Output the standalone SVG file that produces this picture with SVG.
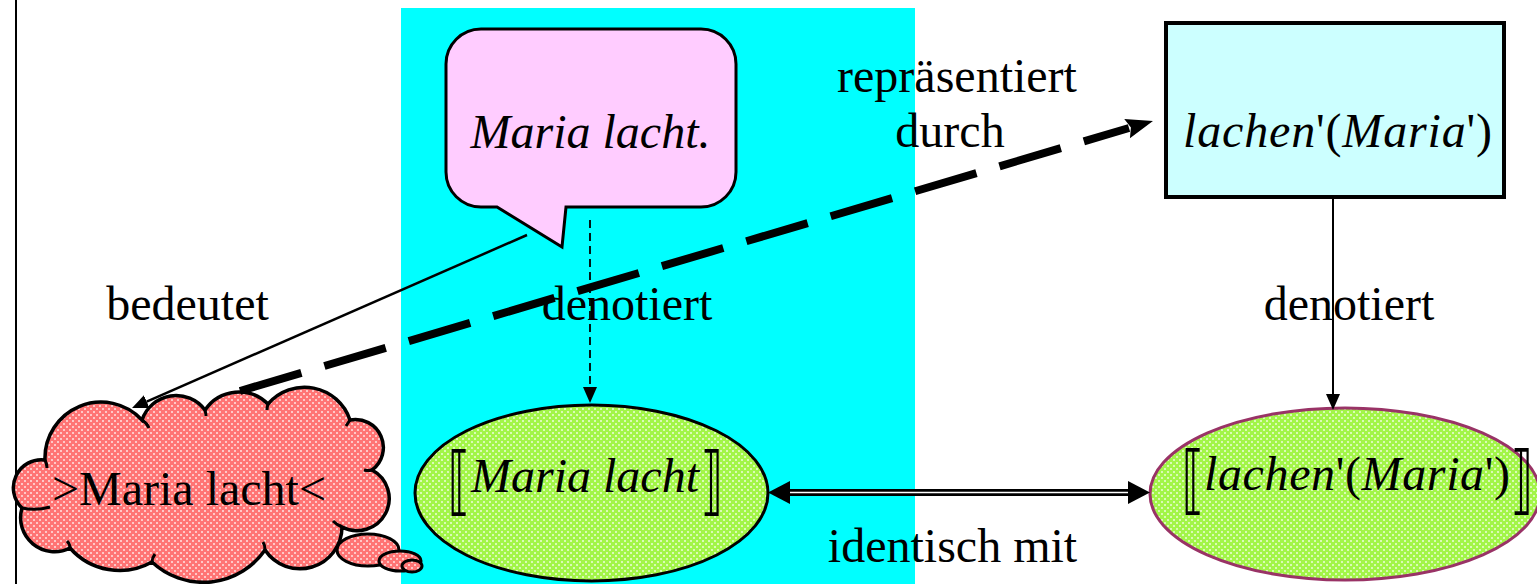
<svg xmlns="http://www.w3.org/2000/svg" xmlns:xlink="http://www.w3.org/1999/xlink" width="1537" height="584" viewBox="0 0 1537 584">
  <style>
    .lbl { font-family: "Liberation Serif", "Times New Roman", serif; font-size: 48px; fill: #000; }
    .it { font-style: italic; }
    .brk { font-family: "DejaVu Serif", "DejaVu Sans", serif; font-size: 75px; fill: #000; }
    .conn { fill: none; stroke: #000; }
    .red { fill: #ff7474; }
    .green { fill: #a2f548; }
    .dots { fill: url(#dotsWhite); stroke: none; }
  </style>
  <defs>
    <!-- white diamond lattice laid over a solid fill -->
    <pattern id="dotsWhite" width="6" height="6" patternUnits="userSpaceOnUse">
      <rect x="0" y="0" width="2" height="2" fill="#ffffff" fill-opacity="0.6"/>
      <rect x="3" y="3" width="2" height="2" fill="#ffffff" fill-opacity="0.6"/>
    </pattern>
    <path id="cloudShape" d="M45,460 A56,56 0 0 1 142,420 A36,36 0 0 1 205,410 A41,41 0 0 1 268,404 A48,48 0 0 1 350,420 A28,28 0 0 1 372,470 A32,32 0 0 1 342,527 A42,42 0 0 1 265,550 A75,75 0 0 1 152,562 A66,66 0 0 1 70,548 A34,34 0 0 1 22,508 A28,28 0 0 1 45,460 Z"/>
    <ellipse id="puffA" cx="368" cy="550" rx="31" ry="16"/>
    <ellipse id="puffB" cx="400" cy="561" rx="21" ry="10"/>
    <ellipse id="puffC" cx="412" cy="566" rx="10" ry="6"/>
    <ellipse id="ovalSentence" cx="591.5" cy="493" rx="176.5" ry="88"/>
    <ellipse id="ovalFormula" cx="1345" cy="494" rx="195" ry="86"/>
    <!-- arrowheads (base of head sits at the line end) -->
    <marker id="headSmall" markerUnits="userSpaceOnUse" viewBox="0 -8 16 16" markerWidth="16" markerHeight="16" refX="0" refY="0" orient="auto">
      <path d="M0,-7 L16,0 L0,7 Z" fill="#000"/>
    </marker>
    <marker id="headDash" markerUnits="userSpaceOnUse" viewBox="-3 -11 30 22" markerWidth="30" markerHeight="22" refX="0" refY="0" orient="auto">
      <path d="M-2,-10 L25,0 L-2,10 L2,0 Z" fill="#000"/>
    </marker>
    <marker id="headWide" markerUnits="userSpaceOnUse" viewBox="0 -12 23 24" markerWidth="23" markerHeight="24" refX="0" refY="0" orient="auto-start-reverse">
      <path d="M0,-11.5 L22,0 L0,11.5 Z" fill="#000"/>
    </marker>
  </defs>

  <rect width="1537" height="584" fill="#ffffff"/>
  <line x1="16" y1="0" x2="16" y2="584" stroke="#000" stroke-width="2"/>
  <rect x="401" y="8" width="514" height="576" fill="#00ffff"/>

  <!-- spoken sentence -->
  <g id="utterance">
    <path fill="#ffccff" stroke="#000" stroke-width="3" d="M481,29 H701 A35,35 0 0 1 736,64 V172 A35,35 0 0 1 701,207 H566 L562,247 L497,207 H481 A35,35 0 0 1 446,172 V64 A35,35 0 0 1 481,29 Z"/>
    <text class="lbl it" x="590.5" y="148" text-anchor="middle">Maria lacht.</text>
  </g>

  <!-- logical form -->
  <g id="formula">
    <rect x="1166" y="23" width="338" height="174" fill="#ccffff" stroke="#000" stroke-width="4"/>
    <text class="lbl" x="1337.5" y="147" text-anchor="middle" font-size="46" textLength="309" lengthAdjust="spacing"><tspan class="it">lachen</tspan>'(<tspan class="it">Maria</tspan>')</text>
  </g>

  <!-- thought -->
  <g id="thought">
    <use xlink:href="#cloudShape" href="#cloudShape" class="red"/>
    <use xlink:href="#cloudShape" href="#cloudShape" class="dots"/>
    <use xlink:href="#cloudShape" href="#cloudShape" fill="none" stroke="#000" stroke-width="3.5"/>
    <path class="conn" stroke-width="3" d="M142,420 q5,3 7,8 M205,410 q1,4 1,6 M268,404 q-1,3 -1,6 M350,420 q-2,3 -4,6 M372,470 q-4,1 -8,0 M342,527 q-5,-2 -9,-6 M265,550 q0,-5 -2,-8 M152,562 q0,-4 3,-8 M70,548 q0,-4 -3,-7 M22,508 q14,3 28,-1 M45,460 q2,4 2,8"/>
    <use xlink:href="#puffA" href="#puffA" class="red"/>
    <use xlink:href="#puffA" href="#puffA" class="dots"/>
    <use xlink:href="#puffA" href="#puffA" fill="none" stroke="#000" stroke-width="3"/>
    <use xlink:href="#puffB" href="#puffB" class="red"/>
    <use xlink:href="#puffB" href="#puffB" class="dots"/>
    <use xlink:href="#puffB" href="#puffB" fill="none" stroke="#000" stroke-width="3"/>
    <use xlink:href="#puffC" href="#puffC" class="red"/>
    <use xlink:href="#puffC" href="#puffC" class="dots"/>
    <use xlink:href="#puffC" href="#puffC" fill="none" stroke="#000" stroke-width="3"/>
    <text class="lbl" x="189" y="505" text-anchor="middle" font-size="46">&gt;Maria lacht&lt;</text>
  </g>

  <!-- meaning of the sentence -->
  <g id="meaning-sentence">
    <use xlink:href="#ovalSentence" href="#ovalSentence" class="green"/>
    <use xlink:href="#ovalSentence" href="#ovalSentence" class="dots"/>
    <use xlink:href="#ovalSentence" href="#ovalSentence" fill="none" stroke="#000" stroke-width="3"/>
    <text class="brk" transform="translate(459,505.5) scale(0.6,1)" text-anchor="middle">⟦</text>
    <text class="lbl it" x="471" y="492" textLength="228" lengthAdjust="spacing">Maria lacht</text>
    <text class="brk" transform="translate(712,505.5) scale(0.6,1)" text-anchor="middle">⟧</text>
  </g>

  <!-- meaning of the formula -->
  <g id="meaning-formula">
    <use xlink:href="#ovalFormula" href="#ovalFormula" class="green"/>
    <use xlink:href="#ovalFormula" href="#ovalFormula" class="dots"/>
    <use xlink:href="#ovalFormula" href="#ovalFormula" fill="none" stroke="#993366" stroke-width="3"/>
    <text class="brk" transform="translate(1193,505) scale(0.6,1)" text-anchor="middle">⟦</text>
    <text class="lbl" x="1204" y="490" font-size="46" textLength="306" lengthAdjust="spacing"><tspan class="it">lachen</tspan>'(<tspan class="it">Maria</tspan>')</text>
    <text class="brk" transform="translate(1522,505) scale(0.6,1)" text-anchor="middle">⟧</text>
  </g>

  <g id="connectors">
    <!-- bedeutet -->
    <line class="conn" x1="527" y1="235" x2="146.7" y2="401.6" stroke-width="2.5" marker-end="url(#headSmall)"/>
    <!-- denotiert (sentence) -->
    <line class="conn" x1="590" y1="220" x2="590" y2="387" stroke-width="1.8" stroke-dasharray="8 5" marker-end="url(#headSmall)"/>
    <!-- denotiert (formula) -->
    <line class="conn" x1="1333" y1="197" x2="1333" y2="394" stroke-width="2" marker-end="url(#headSmall)"/>
    <!-- repräsentiert durch -->
    <line class="conn" x1="240" y1="391" x2="1129" y2="128" stroke-width="8" stroke-dasharray="64 24" marker-end="url(#headDash)"/>
    <!-- identisch mit -->
    <line class="conn" x1="790" y1="492.5" x2="1128" y2="492.5" stroke-width="7" marker-start="url(#headWide)" marker-end="url(#headWide)"/>
    <line x1="790" y1="492.5" x2="1128" y2="492.5" stroke="#ffffff" stroke-width="1.7"/>
  </g>

  <g id="labels">
    <text class="lbl" x="957" y="92" text-anchor="middle">repräsentiert</text>
    <text class="lbl" x="950" y="147" text-anchor="middle">durch</text>
    <text class="lbl" x="187.5" y="320" text-anchor="middle">bedeutet</text>
    <text class="lbl" x="627" y="320" text-anchor="middle">denotiert</text>
    <text class="lbl" x="1349" y="320" text-anchor="middle">denotiert</text>
    <text class="lbl" x="952.5" y="562" text-anchor="middle">identisch mit</text>
  </g>
</svg>
